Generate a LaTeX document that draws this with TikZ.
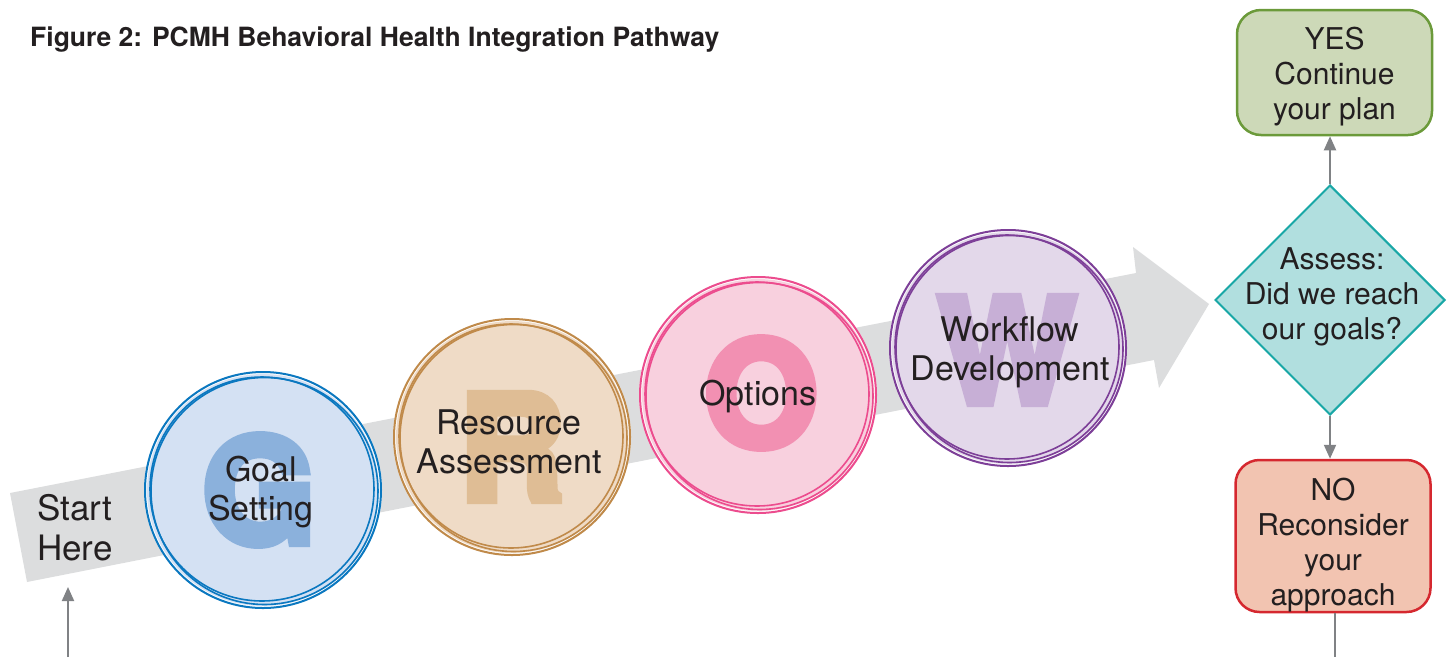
\documentclass[tikz,border=0pt]{standalone}
\usepackage{fontspec}
\setmainfont{TeX Gyre Heros}
\newfontface\heavyfont[FakeBold=6]{texgyreheros-bold.otf}
\usetikzlibrary{shapes.geometric,arrows.meta}
\definecolor{band}{HTML}{DCDDDE}
\definecolor{txt}{HTML}{231F20}
\definecolor{gfill}{HTML}{D4E1F3}\definecolor{gletter}{HTML}{8BB1DC}\definecolor{gring}{HTML}{0B78C0}
\definecolor{rfill}{HTML}{EFDBC6}\definecolor{rletter}{HTML}{DFBD95}\definecolor{rring}{HTML}{C08A4A}
\definecolor{ofill}{HTML}{F8D0DE}\definecolor{oletter}{HTML}{F290B2}\definecolor{oring}{HTML}{EC4C8E}
\definecolor{wfill}{HTML}{E3D8EA}\definecolor{wletter}{HTML}{C7AFD6}\definecolor{wring}{HTML}{7D3F98}
\definecolor{yesfill}{HTML}{CDD9B8}\definecolor{yesline}{HTML}{6B9A3A}
\definecolor{diafill}{HTML}{B1DFDF}\definecolor{dialine}{HTML}{19A7A6}
\definecolor{nofill}{HTML}{F2C4B1}\definecolor{noline}{HTML}{D5282F}
\definecolor{arr}{HTML}{808285}
\tikzset{
  stepcircle/.style={circle, minimum size=232pt, inner sep=0pt, fill=#1},
  bigletter/.style={font=\fontsize{145}{145}\heavyfont, text=#1, inner sep=0pt},
  circtext/.style={font=\fontsize{34}{39}\selectfont, text=txt, align=center, inner sep=0pt},
  sidetext/.style={font=\fontsize{30}{35}\selectfont, text=txt, align=center, inner sep=0pt},
  outbox/.style={rectangle, rounded corners=24pt, minimum width=195pt, line width=2.5pt, draw=#1},
  conn/.style={draw=arr, line width=2pt, -{Triangle[length=14pt,width=12pt]}},
  plainconn/.style={draw=arr, line width=2pt}
}
\newcommand{\rings}[2]{%
  \draw[#2, line width=2pt] (#1.center) circle[radius=118pt];
  \draw[#2, line width=1.6pt] ([shift={(1.5pt,-1pt)}]#1.center) circle[radius=113.5pt];
  \draw[#2, line width=1.6pt] ([shift={(-1pt,1pt)}]#1.center) circle[radius=112pt];
}
\begin{document}
\begin{tikzpicture}[x=1pt,y=-1pt]
\useasboundingbox (0,0) rectangle (1455,657);
% title
\node[anchor=west, font=\fontsize{26.5}{30}\selectfont\bfseries, text=txt, inner sep=0pt] (title) at (30,40) {Figure 2: PCMH Behavioral Health Integration Pathway};
% big band arrow
\fill[band] (10,493) -- (1136,273) -- (1133,247) -- (1209,304) -- (1159,388) -- (1154,360) -- (27,582) -- cycle;
\node[circtext, anchor=west, font=\fontsize{35}{40}\selectfont] (start) at (37,528) {Start\\Here};
% circles
\fill[white] (263,490) circle[radius=119pt];
\node[stepcircle=gfill] (gc) at (263,490) {};
\rings{gc}{gring}
\node[bigletter=gletter] (gl) at (259,490) {G};
\node[circtext] (gt) at (261,492) {Goal\\Setting};

\fill[white] (512,437) circle[radius=119pt];
\node[stepcircle=rfill] (rc) at (512,437) {};
\rings{rc}{rring}
\node[bigletter=rletter] (rl) at (512,447) {R};
\node[circtext] (rt) at (509,442) {Resource\\Assessment};

\fill[white] (758,395) circle[radius=119pt];
\node[stepcircle=ofill] (oc) at (758,395) {};
\rings{oc}{oring}
\node[bigletter=oletter] (ol) at (761,393) {O};
\node[circtext] (ot) at (758,396) {Options};

\fill[white] (1008,348) circle[radius=119pt];
\node[stepcircle=wfill] (wc) at (1008,348) {};
\rings{wc}{wring}
\node[bigletter=wletter] (wl) at (1007,350) {W};
\node[circtext] (wt) at (1010,352) {Workflow\\Development};

% decision
\node[diamond, aspect=1, minimum width=230pt, minimum height=230pt, inner sep=0pt, fill=diafill, draw=dialine, line width=2pt] (dia) at (1330,300) {};
\node[sidetext] (diat) at (1332,297) {Assess:\\Did we reach\\our goals?};
\node[outbox=yesline, fill=yesfill, minimum height=125pt] (yes) at (1334.5,72.5) {};
\node[sidetext] (yest) at (1334.5,77) {YES\\Continue\\your plan};
\node[outbox=noline, fill=nofill, minimum height=152pt] (no) at (1333,536) {};
\node[sidetext] (not) at (1333,545) {NO\\Reconsider\\your\\approach};

% connectors
\draw[conn] (dia.north) -- (dia.north |- yes.south);
\draw[conn] (dia.south) -- (dia.south |- no.north);
\coordinate (noend) at (1335,657);
\draw[plainconn] (no.south -| noend) -- (noend);
\coordinate (startfoot) at (68,657);
\coordinate (starttip) at (68,587);
\draw[conn] (startfoot) -- (starttip);
\end{tikzpicture}
\end{document}
